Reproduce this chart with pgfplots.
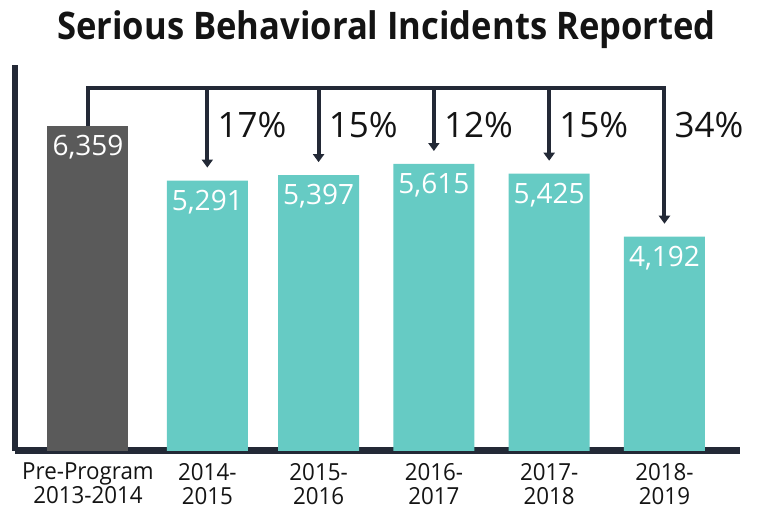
\documentclass[border=0pt]{standalone}
\usepackage{fontspec}
\setmainfont{Open Sans}
\newfontfamily\titlefont[FakeStretch=0.91]{Open Sans}
\newfontfamily\tickfont[FakeStretch=0.95]{Open Sans}
\usepackage{pgfplots}
\pgfplotsset{compat=1.18}
\usetikzlibrary{arrows.meta}
\definecolor{barteal}{HTML}{66CBC4}
\definecolor{bargray}{HTML}{5A5A5A}
\definecolor{linedark}{HTML}{232936}
\definecolor{txt}{HTML}{141414}

\begin{document}
\begin{tikzpicture}[
  bracket/.style={line width=4pt, linedark, line join=miter, -{Triangle[width=11pt,length=8pt]}},
  pct/.style={anchor=base west, inner sep=0pt, xshift=10pt, text=txt, font=\fontsize{35}{38}\selectfont}]
\begin{axis}[
  at={(15pt,59pt)}, anchor=south west,
  scale only axis, width=725pt, height=386pt,
  xmin=-0.633, xmax=5.655, ymin=0, ymax=7552,
  axis x line=bottom, axis y line=left,
  axis line style={-, draw=linedark},
  x axis line style={line width=7pt},
  y axis line style={line width=6pt},
  ytick=\empty,
  xtick={0,1.035,2,3,4,5},
  xticklabels={{Pre-Program\\2013-2014},{2014-\\2015},{2015-\\2016},{2016-\\2017},{2017-\\2018},{2018-\\2019}},
  major tick length=0pt,
  xticklabel style={align=center, font=\fontsize{23.5}{24}\selectfont\tickfont, text=txt, inner sep=0pt, anchor=north, yshift=-12pt},
  clip=false,
  ybar, bar width=81pt,
  nodes near coords,
  nodes near coords align={anchor=north},
  every node near coord/.append style={yshift=-9pt, inner sep=0pt, text=white, font=\fontsize{28}{30}\selectfont},
  /pgf/number format/.cd, 1000 sep={,}, assume math mode=true,
]
% pre-program bar
\addplot[fill=bargray, draw=none, bar shift=0pt] coordinates {(0,6359)};
% program years
\addplot[fill=barteal, draw=none, bar shift=0pt] coordinates {
  (1.035,5291) (2,5397) (3,5615) (4,5425) (5,4192)};

% bracket with arrows
\draw[bracket] (axis cs:0,6359) -- (axis cs:0,7102) -- (axis cs:5,7102) -- (axis cs:5,4446);
\draw[bracket] (axis cs:1.035,7102) -- (axis cs:1.035,5545);
\draw[bracket] (axis cs:2,7102) -- (axis cs:2,5651);
\draw[bracket] (axis cs:3,7102) -- (axis cs:3,5869);
\draw[bracket] (axis cs:4,7102) -- (axis cs:4,5679);
% reductions
\node[pct] at (axis cs:1.035,6124) {17\%};
\node[pct] at (axis cs:2,6124) {15\%};
\node[pct] at (axis cs:3,6124) {12\%};
\node[pct] at (axis cs:4,6124) {15\%};
\node[pct] at (axis cs:5,6124) {34\%};
\end{axis}
\node[anchor=base, inner sep=0pt, text=txt, font=\titlefont\bfseries\fontsize{38}{40}\selectfont]
  at (386.5pt,470pt) {Serious Behavioral Incidents Reported};
\pgfresetboundingbox
\path (0,0) rectangle (762pt,510pt);
\end{tikzpicture}
\end{document}
